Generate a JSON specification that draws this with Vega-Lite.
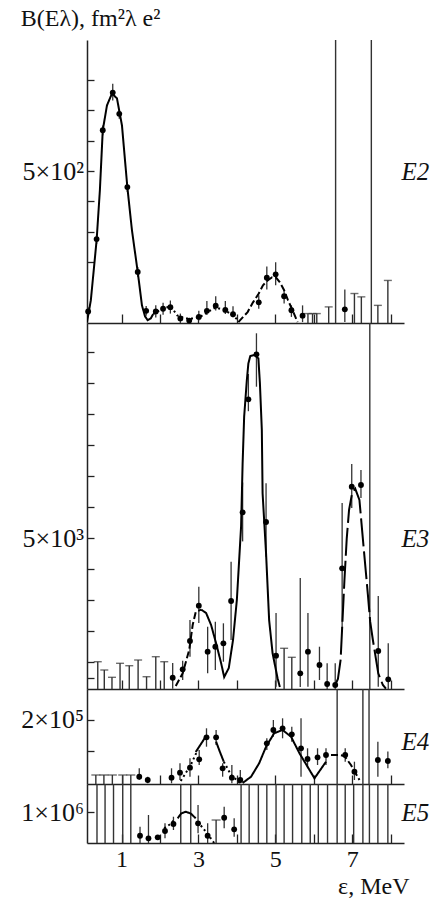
{
"$schema":"https://vega.github.io/schema/vega-lite/v6.json",
"padding":{"left":20,"top":7,"right":5,"bottom":3},
"title":{"text":"B(Eλ), fm²λ e²","anchor":"start","frame":"bounds","font":"Liberation Serif","fontSize":24,"fontWeight":"normal","color":"#111","offset":8},
"config":{"view":{"stroke":null},"axis":{"domainColor":"#222","domainWidth":1.5,"tickColor":"#222","tickWidth":1.3,"labelFont":"Liberation Serif","labelFontSize":24,"labelColor":"#111","titleFont":"Liberation Serif","titleFontSize":24,"titleFontWeight":"normal","titleColor":"#111","grid":false,"labelOverlap":false,"labelBound":false}},
"spacing":0,
"bounds":"flush",
"datasets":{
"p":[
{"panel":"E2","x":0.13,"y":38,"lo":25,"hi":52},{"panel":"E2","x":0.35,"y":276,"lo":260,"hi":292},{"panel":"E2","x":0.51,"y":634,"lo":618,"hi":650},{"panel":"E2","x":0.77,"y":758,"lo":732,"hi":787},{"panel":"E2","x":0.94,"y":688,"lo":672,"hi":704},{"panel":"E2","x":1.15,"y":447,"lo":431,"hi":463},{"panel":"E2","x":1.42,"y":168,"lo":152,"hi":184},{"panel":"E2","x":1.64,"y":40,"lo":24,"hi":56},{"panel":"E2","x":1.89,"y":38,"lo":18,"hi":58},{"panel":"E2","x":2.08,"y":47,"lo":27,"hi":67},{"panel":"E2","x":2.27,"y":52,"lo":31,"hi":74},{"panel":"E2","x":2.53,"y":15,"lo":0,"hi":31},{"panel":"E2","x":2.76,"y":8,"lo":8,"hi":8},{"panel":"E2","x":3.01,"y":20,"lo":8,"hi":40},{"panel":"E2","x":3.22,"y":40,"lo":26,"hi":72},{"panel":"E2","x":3.45,"y":57,"lo":41,"hi":88},{"panel":"E2","x":3.70,"y":43,"lo":30,"hi":72},{"panel":"E2","x":3.90,"y":29,"lo":18,"hi":55},{"panel":"E2","x":4.57,"y":68,"lo":47,"hi":91},{"panel":"E2","x":4.78,"y":149,"lo":110,"hi":186},{"panel":"E2","x":5.01,"y":160,"lo":124,"hi":200},{"panel":"E2","x":5.23,"y":88,"lo":64,"hi":108},{"panel":"E2","x":5.42,"y":42,"lo":20,"hi":58},{"panel":"E2","x":5.71,"y":24,"lo":3,"hi":58},{"panel":"E2","x":6.81,"y":45,"lo":3,"hi":110},
{"panel":"E3","x":2.33,"y":503,"lo":150,"hi":977},{"panel":"E3","x":2.59,"y":774,"lo":429,"hi":1052},{"panel":"E3","x":2.78,"y":1687,"lo":1181,"hi":2366},{"panel":"E3","x":3.01,"y":2826,"lo":2268,"hi":3439},{"panel":"E3","x":3.24,"y":1342,"lo":645,"hi":2148},{"panel":"E3","x":3.44,"y":1503,"lo":752,"hi":2310},{"panel":"E3","x":3.65,"y":1613,"lo":1019,"hi":2258},{"panel":"E3","x":3.85,"y":2977,"lo":1719,"hi":4245},{"panel":"E3","x":4.15,"y":5839,"lo":4900,"hi":6800},{"panel":"E3","x":4.30,"y":9484,"lo":9100,"hi":10300},{"panel":"E3","x":4.51,"y":10935,"lo":9890,"hi":11613},{"panel":"E3","x":4.76,"y":5526,"lo":4406,"hi":6774},{"panel":"E3","x":5.02,"y":1213,"lo":213,"hi":2590},{"panel":"E3","x":5.65,"y":645,"lo":203,"hi":3719},{"panel":"E3","x":5.85,"y":1342,"lo":213,"hi":2590},{"panel":"E3","x":6.15,"y":913,"lo":429,"hi":1503},{"panel":"E3","x":6.35,"y":300,"lo":139,"hi":968},{"panel":"E3","x":6.56,"y":268,"lo":139,"hi":968},{"panel":"E3","x":6.74,"y":4032,"lo":1987,"hi":6139},{"panel":"E3","x":6.99,"y":6665,"lo":5977,"hi":7397},{"panel":"E3","x":7.23,"y":6719,"lo":6300,"hi":7203},{"panel":"E3","x":7.68,"y":1365,"lo":213,"hi":3139},{"panel":"E3","x":7.94,"y":452,"lo":139,"hi":1613},
{"panel":"E4","x":1.46,"y":107653,"lo":102278,"hi":121333},{"panel":"E4","x":1.68,"y":102278,"lo":96900,"hi":107653},{"panel":"E4","x":2.30,"y":106025,"lo":96900,"hi":121333},{"panel":"E4","x":2.52,"y":114166,"lo":102278,"hi":129478},{"panel":"E4","x":2.78,"y":122311,"lo":107653,"hi":137622},{"panel":"E4","x":3.02,"y":135994,"lo":126709,"hi":151139},{"panel":"E4","x":3.21,"y":171824,"lo":156513,"hi":186482},{"panel":"E4","x":3.46,"y":171824,"lo":159283,"hi":183713},{"panel":"E4","x":3.63,"y":121333,"lo":107653,"hi":129478},{"panel":"E4","x":3.87,"y":106025,"lo":96900,"hi":126709},{"panel":"E4","x":4.09,"y":102278,"lo":96900,"hi":118565},{"panel":"E4","x":4.78,"y":162051,"lo":151139,"hi":170195},{"panel":"E4","x":4.95,"y":183713,"lo":172801,"hi":200000},{"panel":"E4","x":5.19,"y":186482,"lo":170195,"hi":202769},{"panel":"E4","x":5.43,"y":176710,"lo":164658,"hi":189088},{"panel":"E4","x":5.67,"y":153908,"lo":107653,"hi":202769},{"panel":"E4","x":5.84,"y":136481,"lo":121333,"hi":153908},{"panel":"E4","x":6.10,"y":139250,"lo":126709,"hi":153908},{"panel":"E4","x":6.32,"y":142996,"lo":126709,"hi":153908},{"panel":"E4","x":6.82,"y":142996,"lo":132084,"hi":153908},{"panel":"E4","x":7.06,"y":115796,"lo":102278,"hi":132084},{"panel":"E4","x":7.67,"y":134852,"lo":107653,"hi":164658},{"panel":"E4","x":7.93,"y":133223,"lo":121333,"hi":148696},
{"panel":"E5","x":1.48,"y":839320,"lo":787800,"hi":900340},{"panel":"E5","x":1.70,"y":821690,"lo":789830,"hi":979660},{"panel":"E5","x":1.94,"y":828470,"lo":815000,"hi":842000},{"panel":"E5","x":2.13,"y":871190,"lo":821690,"hi":923390},{"panel":"E5","x":2.35,"y":918640,"lo":877970,"hi":968140},{"panel":"E5","x":2.99,"y":923390,"lo":855590,"hi":1047460},{"panel":"E5","x":3.24,"y":839320,"lo":787800,"hi":923390},{"panel":"E5","x":3.67,"y":961360,"lo":889490,"hi":1035930},{"panel":"E5","x":3.93,"y":882710,"lo":832540,"hi":957290}
],
"l":[
{"panel":"E2","x":5.85,"lo":0,"hi":31},{"panel":"E2","x":5.97,"lo":0,"hi":31},{"panel":"E2","x":6.08,"lo":0,"hi":31},{"panel":"E2","x":6.39,"lo":0,"hi":53},{"panel":"E2","x":7.06,"lo":0,"hi":97},{"panel":"E2","x":7.24,"lo":0,"hi":86},{"panel":"E2","x":7.67,"lo":0,"hi":58},{"panel":"E2","x":7.93,"lo":0,"hi":140},
{"panel":"E3","x":0.38,"lo":0,"hi":1019},{"panel":"E3","x":0.55,"lo":0,"hi":752},{"panel":"E3","x":0.75,"lo":0,"hi":516},{"panel":"E3","x":0.96,"lo":0,"hi":968},{"panel":"E3","x":1.20,"lo":0,"hi":890},{"panel":"E3","x":1.43,"lo":0,"hi":1074},{"panel":"E3","x":1.65,"lo":0,"hi":535},{"panel":"E3","x":1.89,"lo":0,"hi":1181},{"panel":"E3","x":2.11,"lo":0,"hi":1019},{"panel":"E3","x":5.23,"lo":0,"hi":1452},{"panel":"E3","x":5.43,"lo":0,"hi":1161},
{"panel":"E4","x":0.33,"lo":0,"hi":110422},{"panel":"E4","x":0.54,"lo":0,"hi":110422},{"panel":"E4","x":0.76,"lo":0,"hi":110422},{"panel":"E4","x":1.03,"lo":0,"hi":110422},{"panel":"E4","x":1.24,"lo":0,"hi":110422},
{"panel":"E5","x":3.46,"lo":0,"hi":945760}
],
"f":[
{"panel":"E2","x":6.57},{"panel":"E2","x":7.50},
{"panel":"E3","x":7.46},
{"panel":"E4","x":6.61},{"panel":"E4","x":7.28},{"panel":"E4","x":7.44},
{"panel":"E5","x":0.36},{"panel":"E5","x":0.57},{"panel":"E5","x":0.79},{"panel":"E5","x":1.03},{"panel":"E5","x":1.24},{"panel":"E5","x":2.54},{"panel":"E5","x":2.80},{"panel":"E5","x":4.11},{"panel":"E5","x":4.32},{"panel":"E5","x":4.56},{"panel":"E5","x":4.78},{"panel":"E5","x":5.02},{"panel":"E5","x":5.23},{"panel":"E5","x":5.45},{"panel":"E5","x":5.69},{"panel":"E5","x":5.91},{"panel":"E5","x":6.12},{"panel":"E5","x":6.36},{"panel":"E5","x":6.61},{"panel":"E5","x":6.82},{"panel":"E5","x":7.04},{"panel":"E5","x":7.28},{"panel":"E5","x":7.45},{"panel":"E5","x":7.67},{"panel":"E5","x":7.93}
],
"c":[
{"panel":"E2","seg":"a","style":"solid","x":0.10,"y":3},{"panel":"E2","seg":"a","style":"solid","x":0.20,"y":75},{"panel":"E2","seg":"a","style":"solid","x":0.35,"y":272},{"panel":"E2","seg":"a","style":"solid","x":0.435,"y":436},{"panel":"E2","seg":"a","style":"solid","x":0.51,"y":634},{"panel":"E2","seg":"a","style":"solid","x":0.62,"y":716},{"panel":"E2","seg":"a","style":"solid","x":0.75,"y":755},{"panel":"E2","seg":"a","style":"solid","x":0.88,"y":739},{"panel":"E2","seg":"a","style":"solid","x":1.01,"y":650},{"panel":"E2","seg":"a","style":"solid","x":1.15,"y":447},{"panel":"E2","seg":"a","style":"solid","x":1.27,"y":305},{"panel":"E2","seg":"a","style":"solid","x":1.42,"y":168},{"panel":"E2","seg":"a","style":"solid","x":1.53,"y":58},{"panel":"E2","seg":"a","style":"solid","x":1.61,"y":22},{"panel":"E2","seg":"a","style":"solid","x":1.68,"y":9},{"panel":"E2","seg":"a","style":"solid","x":1.76,"y":15},{"panel":"E2","seg":"a","style":"solid","x":1.82,"y":29},
{"panel":"E2","seg":"b","style":"dot","x":1.82,"y":29},{"panel":"E2","seg":"b","style":"dot","x":1.90,"y":35},{"panel":"E2","seg":"b","style":"dot","x":2.08,"y":48},{"panel":"E2","seg":"b","style":"dot","x":2.28,"y":55},{"panel":"E2","seg":"b","style":"dot","x":2.45,"y":25},{"panel":"E2","seg":"b","style":"dot","x":2.65,"y":15},{"panel":"E2","seg":"b","style":"dot","x":2.86,"y":15},{"panel":"E2","seg":"b","style":"dot","x":3.07,"y":22},{"panel":"E2","seg":"b","style":"dot","x":3.27,"y":38},{"panel":"E2","seg":"b","style":"dot","x":3.45,"y":51},{"panel":"E2","seg":"b","style":"dot","x":3.69,"y":42},{"panel":"E2","seg":"b","style":"dot","x":3.90,"y":25},{"panel":"E2","seg":"b","style":"dot","x":4.03,"y":9},
{"panel":"E2","seg":"c","style":"dash","x":4.04,"y":3},{"panel":"E2","seg":"c","style":"dash","x":4.28,"y":36},{"panel":"E2","seg":"c","style":"dash","x":4.42,"y":68},{"panel":"E2","seg":"c","style":"dash","x":4.57,"y":97},{"panel":"E2","seg":"c","style":"dash","x":4.68,"y":124},{"panel":"E2","seg":"c","style":"dash","x":4.80,"y":140},{"panel":"E2","seg":"c","style":"dash","x":4.91,"y":150},{"panel":"E2","seg":"c","style":"dash","x":5.01,"y":151},{"panel":"E2","seg":"c","style":"dash","x":5.12,"y":134},{"panel":"E2","seg":"c","style":"dash","x":5.23,"y":108},{"panel":"E2","seg":"c","style":"dash","x":5.33,"y":75},{"panel":"E2","seg":"c","style":"dash","x":5.45,"y":42},{"panel":"E2","seg":"c","style":"dash","x":5.58,"y":3},
{"panel":"E3","seg":"a","style":"dash","x":2.41,"y":236},{"panel":"E3","seg":"a","style":"dash","x":2.59,"y":645},{"panel":"E3","seg":"a","style":"dash","x":2.76,"y":1397},{"panel":"E3","seg":"a","style":"dash","x":2.85,"y":2203},{"panel":"E3","seg":"a","style":"dash","x":2.93,"y":2623},{"panel":"E3","seg":"a","style":"dash","x":3.07,"y":2700},
{"panel":"E3","seg":"b","style":"solid","x":3.07,"y":2700},{"panel":"E3","seg":"b","style":"solid","x":3.20,"y":2590},{"panel":"E3","seg":"b","style":"solid","x":3.33,"y":2203},{"panel":"E3","seg":"b","style":"solid","x":3.46,"y":1613},{"panel":"E3","seg":"b","style":"solid","x":3.59,"y":977},{"panel":"E3","seg":"b","style":"solid","x":3.67,"y":526},{"panel":"E3","seg":"b","style":"solid","x":3.79,"y":816},{"panel":"E3","seg":"b","style":"solid","x":3.90,"y":1719},{"panel":"E3","seg":"b","style":"solid","x":4.00,"y":3010},{"panel":"E3","seg":"b","style":"solid","x":4.06,"y":4300},{"panel":"E3","seg":"b","style":"solid","x":4.11,"y":5374},{"panel":"E3","seg":"b","style":"solid","x":4.15,"y":7419},{"panel":"E3","seg":"b","style":"solid","x":4.19,"y":8923},{"panel":"E3","seg":"b","style":"solid","x":4.26,"y":10106},{"panel":"E3","seg":"b","style":"solid","x":4.30,"y":10645},{"panel":"E3","seg":"b","style":"solid","x":4.35,"y":10881},{"panel":"E3","seg":"b","style":"solid","x":4.45,"y":10913},{"panel":"E3","seg":"b","style":"solid","x":4.56,"y":10806},{"panel":"E3","seg":"b","style":"solid","x":4.60,"y":10000},{"panel":"E3","seg":"b","style":"solid","x":4.65,"y":8494},{"panel":"E3","seg":"b","style":"solid","x":4.67,"y":6452},{"panel":"E3","seg":"b","style":"solid","x":4.76,"y":4516},{"panel":"E3","seg":"b","style":"solid","x":4.84,"y":2365},{"panel":"E3","seg":"b","style":"solid","x":4.93,"y":1290},{"panel":"E3","seg":"b","style":"solid","x":5.06,"y":484},{"panel":"E3","seg":"b","style":"solid","x":5.12,"y":200},
{"panel":"E3","seg":"c","style":"long","x":6.54,"y":213},{"panel":"E3","seg":"c","style":"long","x":6.63,"y":461},{"panel":"E3","seg":"c","style":"long","x":6.70,"y":1074},{"panel":"E3","seg":"c","style":"long","x":6.75,"y":2364},{"panel":"E3","seg":"c","style":"long","x":6.80,"y":3655},{"panel":"E3","seg":"c","style":"long","x":6.86,"y":5000},{"panel":"E3","seg":"c","style":"long","x":6.92,"y":5913},{"panel":"E3","seg":"c","style":"long","x":7.00,"y":6461},{"panel":"E3","seg":"c","style":"long","x":7.08,"y":6600},{"panel":"E3","seg":"c","style":"long","x":7.19,"y":6235},{"panel":"E3","seg":"c","style":"long","x":7.30,"y":4700},{"panel":"E3","seg":"c","style":"long","x":7.41,"y":3181},{"panel":"E3","seg":"c","style":"long","x":7.47,"y":2310},{"panel":"E3","seg":"c","style":"long","x":7.54,"y":1719},{"panel":"E3","seg":"c","style":"long","x":7.68,"y":645},{"panel":"E3","seg":"c","style":"long","x":7.80,"y":268},{"panel":"E3","seg":"c","style":"long","x":7.88,"y":150},
{"panel":"E4","seg":"a","style":"dot","x":2.54,"y":100650},{"panel":"E4","seg":"a","style":"dot","x":2.80,"y":126709},{"panel":"E4","seg":"a","style":"dot","x":2.98,"y":151139},
{"panel":"E4","seg":"b","style":"solid","x":2.93,"y":147882},{"panel":"E4","seg":"b","style":"solid","x":3.20,"y":173941},
{"panel":"E4","seg":"c","style":"solid","x":3.46,"y":164658},{"panel":"E4","seg":"c","style":"solid","x":3.56,"y":147882},{"panel":"E4","seg":"c","style":"solid","x":3.66,"y":132084},
{"panel":"E4","seg":"d","style":"dot","x":3.66,"y":132084},{"panel":"E4","seg":"d","style":"dot","x":3.85,"y":110422},{"panel":"E4","seg":"d","style":"dot","x":4.08,"y":97392},
{"panel":"E4","seg":"e","style":"solid","x":4.15,"y":97392},{"panel":"E4","seg":"e","style":"solid","x":4.37,"y":107653},{"panel":"E4","seg":"e","style":"solid","x":4.58,"y":129478},{"panel":"E4","seg":"e","style":"solid","x":4.76,"y":156513},{"panel":"E4","seg":"e","style":"solid","x":4.97,"y":178339},{"panel":"E4","seg":"e","style":"solid","x":5.19,"y":183713},{"panel":"E4","seg":"e","style":"solid","x":5.41,"y":172801},{"panel":"E4","seg":"e","style":"solid","x":5.63,"y":145764},{"panel":"E4","seg":"e","style":"solid","x":5.84,"y":123940},{"panel":"E4","seg":"e","style":"solid","x":6.02,"y":105047},{"panel":"E4","seg":"e","style":"solid","x":6.32,"y":132084},
{"panel":"E4","seg":"f","style":"dash","x":6.45,"y":143000},{"panel":"E4","seg":"f","style":"dash","x":6.67,"y":143000},{"panel":"E4","seg":"f","style":"dash","x":6.80,"y":141367},{"panel":"E4","seg":"f","style":"dash","x":6.97,"y":126709},{"panel":"E4","seg":"f","style":"dash","x":7.19,"y":102278},
{"panel":"E5","seg":"a","style":"dot","x":2.11,"y":889490},{"panel":"E5","seg":"a","style":"dot","x":2.25,"y":915000},{"panel":"E5","seg":"a","style":"dot","x":2.37,"y":945760},
{"panel":"E5","seg":"b","style":"solid","x":2.46,"y":957290},{"panel":"E5","seg":"b","style":"solid","x":2.55,"y":990000},{"panel":"E5","seg":"b","style":"solid","x":2.67,"y":1002034},{"panel":"E5","seg":"b","style":"solid","x":2.80,"y":990000},{"panel":"E5","seg":"b","style":"solid","x":2.93,"y":957290},
{"panel":"E5","seg":"c","style":"dot","x":2.98,"y":935000},{"panel":"E5","seg":"c","style":"dot","x":3.22,"y":857630},{"panel":"E5","seg":"c","style":"dot","x":3.41,"y":789830}
]
},
"vconcat":[
{"width":317,"height":283,
 "encoding":{"x":{"field":"x","type":"quantitative","scale":{"domain":[0.1,8.35],"nice":false,"zero":false},"axis":{"values":[1,2,3,4,5,6,7,8],"labels":false,"tickSize":-9,"title":null}}},
 "layer":[
  {"data":{"name":"f"},"transform":[{"filter":"datum.panel=='E2'"}],"mark":{"type":"rule","strokeWidth":1.4,"color":"#333"},"encoding":{}},
  {"data":{"name":"l"},"transform":[{"filter":"datum.panel=='E2'"}],"mark":{"type":"rule","strokeWidth":1.4,"color":"#333","clip":true},"encoding":{"y":{"field":"hi","type":"quantitative","scale":{"domain":[0,931],"nice":false,"zero":false},"axis":{"orient":"left","values":[200,300,400,500,600,700,800],"labelExpr":"datum.value==500?'5×10²':''","labelFontSize":26,"tickSize":-7,"labelPadding":10.5,"title":null}},"y2":{"field":"lo"}}},
  {"data":{"name":"l"},"transform":[{"filter":"datum.panel=='E2'"}],"mark":{"type":"tick","orient":"horizontal","size":8,"thickness":1.4,"color":"#333"},"encoding":{"y":{"field":"hi","type":"quantitative","scale":{"domain":[0,931],"nice":false,"zero":false},"axis":null}}},
  {"data":{"name":"p"},"transform":[{"filter":"datum.panel=='E2'"}],"mark":{"type":"rule","strokeWidth":1.3,"color":"#333","clip":true},"encoding":{"y":{"field":"lo","type":"quantitative","scale":{"domain":[0,931],"nice":false,"zero":false},"axis":null},"y2":{"field":"hi"}}},
  {"data":{"name":"p"},"transform":[{"filter":"datum.panel=='E2'"}],"mark":{"type":"point","filled":true,"size":34,"color":"#000","opacity":1},"encoding":{"y":{"field":"y","type":"quantitative","scale":{"domain":[0,931],"nice":false,"zero":false},"axis":null}}},
  {"data":{"name":"c"},"transform":[{"filter":"datum.panel=='E2'"}],"mark":{"type":"line","strokeWidth":2,"color":"#000","clip":true},"encoding":{"y":{"field":"y","type":"quantitative","scale":{"domain":[0,931],"nice":false,"zero":false},"axis":{"orient":"right","values":[500],"labelExpr":"'E2'","labelFontSize":25,"ticks":false,"domain":false,"labelPadding":-3,"labelFontStyle":"italic","title":null}},"detail":{"field":"seg"},"strokeDash":{"field":"style","type":"nominal","scale":{"domain":["solid","dash","dot","long"],"range":[[1,0],[7,3],[2,3],[28,5]]},"legend":null}}}
 ],
 "resolve":{"axis":{"y":"independent"}}
},
{"width":317,"height":366,
 "encoding":{"x":{"field":"x","type":"quantitative","scale":{"domain":[0.1,8.35],"nice":false,"zero":false},"axis":{"values":[1,2,3,4,5,6,7,8],"labels":false,"tickSize":-9,"title":null}}},
 "layer":[
  {"data":{"name":"f"},"transform":[{"filter":"datum.panel=='E3'"}],"mark":{"type":"rule","strokeWidth":1.4,"color":"#333"},"encoding":{}},
  {"data":{"name":"l"},"transform":[{"filter":"datum.panel=='E3'"}],"mark":{"type":"rule","strokeWidth":1.4,"color":"#333","clip":true},"encoding":{"y":{"field":"hi","type":"quantitative","scale":{"domain":[139,11945],"nice":false,"zero":false},"axis":{"orient":"left","values":[500,1000,2000,3000,4000,5000,6000,7000,8000,9000,10000,11000],"labelExpr":"datum.value==5000?'5×10³':''","labelFontSize":26,"tickSize":-7,"labelPadding":10.5,"title":null}},"y2":{"field":"lo"}}},
  {"data":{"name":"l"},"transform":[{"filter":"datum.panel=='E3'"}],"mark":{"type":"tick","orient":"horizontal","size":8,"thickness":1.4,"color":"#333"},"encoding":{"y":{"field":"hi","type":"quantitative","scale":{"domain":[139,11945],"nice":false,"zero":false},"axis":null}}},
  {"data":{"name":"p"},"transform":[{"filter":"datum.panel=='E3'"}],"mark":{"type":"rule","strokeWidth":1.3,"color":"#333","clip":true},"encoding":{"y":{"field":"lo","type":"quantitative","scale":{"domain":[139,11945],"nice":false,"zero":false},"axis":null},"y2":{"field":"hi"}}},
  {"data":{"name":"p"},"transform":[{"filter":"datum.panel=='E3'"}],"mark":{"type":"point","filled":true,"size":34,"color":"#000","opacity":1},"encoding":{"y":{"field":"y","type":"quantitative","scale":{"domain":[139,11945],"nice":false,"zero":false},"axis":null}}},
  {"data":{"name":"c"},"transform":[{"filter":"datum.panel=='E3'"}],"mark":{"type":"line","strokeWidth":2,"color":"#000","clip":true},"encoding":{"y":{"field":"y","type":"quantitative","scale":{"domain":[139,11945],"nice":false,"zero":false},"axis":{"orient":"right","values":[5000],"labelExpr":"'E3'","labelFontSize":25,"ticks":false,"domain":false,"labelPadding":-3,"labelFontStyle":"italic","title":null}},"detail":{"field":"seg"},"strokeDash":{"field":"style","type":"nominal","scale":{"domain":["solid","dash","dot","long"],"range":[[1,0],[7,3],[2,3],[28,5]]},"legend":null}}}
 ],
 "resolve":{"axis":{"y":"independent"}}
},
{"width":317,"height":95,
 "encoding":{"x":{"field":"x","type":"quantitative","scale":{"domain":[0.1,8.35],"nice":false,"zero":false},"axis":{"values":[1,2,3,4,5,6,7,8],"labels":false,"tickSize":-9,"title":null}}},
 "layer":[
  {"data":{"name":"f"},"transform":[{"filter":"datum.panel=='E4'"}],"mark":{"type":"rule","strokeWidth":1.4,"color":"#333"},"encoding":{}},
  {"data":{"name":"l"},"transform":[{"filter":"datum.panel=='E4'"}],"mark":{"type":"rule","strokeWidth":1.4,"color":"#333","clip":true},"encoding":{"y":{"field":"hi","type":"quantitative","scale":{"domain":[95760,250490],"nice":false,"zero":false},"axis":{"orient":"left","values":[150000,200000],"labelExpr":"datum.value==200000?'2×10⁵':''","labelFontSize":26,"tickSize":-7,"labelPadding":10.5,"title":null}},"y2":{"field":"lo"}}},
  {"data":{"name":"l"},"transform":[{"filter":"datum.panel=='E4'"}],"mark":{"type":"tick","orient":"horizontal","size":9,"thickness":1.4,"color":"#333"},"encoding":{"y":{"field":"hi","type":"quantitative","scale":{"domain":[95760,250490],"nice":false,"zero":false},"axis":null}}},
  {"data":{"name":"p"},"transform":[{"filter":"datum.panel=='E4'"}],"mark":{"type":"rule","strokeWidth":1.3,"color":"#333","clip":true},"encoding":{"y":{"field":"lo","type":"quantitative","scale":{"domain":[95760,250490],"nice":false,"zero":false},"axis":null},"y2":{"field":"hi"}}},
  {"data":{"name":"p"},"transform":[{"filter":"datum.panel=='E4'"}],"mark":{"type":"point","filled":true,"size":34,"color":"#000","opacity":1},"encoding":{"y":{"field":"y","type":"quantitative","scale":{"domain":[95760,250490],"nice":false,"zero":false},"axis":null}}},
  {"data":{"name":"c"},"transform":[{"filter":"datum.panel=='E4'"}],"mark":{"type":"line","strokeWidth":2,"color":"#000","clip":true},"encoding":{"y":{"field":"y","type":"quantitative","scale":{"domain":[95760,250490],"nice":false,"zero":false},"axis":{"orient":"right","values":[164657],"labelExpr":"'E4'","labelFontSize":25,"ticks":false,"domain":false,"labelPadding":-3,"labelFontStyle":"italic","title":null}},"detail":{"field":"seg"},"strokeDash":{"field":"style","type":"nominal","scale":{"domain":["solid","dash","dot","long"],"range":[[1,0],[7,3],[2,3],[28,5]]},"legend":null}}}
 ],
 "resolve":{"axis":{"y":"independent"}}
},
{"width":317,"height":59,
 "encoding":{"x":{"field":"x","type":"quantitative","scale":{"domain":[0.1,8.35],"nice":false,"zero":false},"axis":{"values":[1,2,3,4,5,6,7,8],"labelExpr":"datum.value%2==1?datum.label:''","labelFontSize":24,"tickSize":-9,"labelPadding":13,"title":"ε, MeV","titleFontSize":24,"titleAnchor":"end","titleAlign":"right","titleBaseline":"alphabetic","titleX":322,"titleY":50}}},
 "layer":[
  {"data":{"name":"f"},"transform":[{"filter":"datum.panel=='E5'"}],"mark":{"type":"rule","strokeWidth":1.4,"color":"#333"},"encoding":{}},
  {"data":{"name":"l"},"transform":[{"filter":"datum.panel=='E5'"}],"mark":{"type":"rule","strokeWidth":1.4,"color":"#333","clip":true},"encoding":{"y":{"field":"hi","type":"quantitative","scale":{"domain":[790000,1190000],"nice":false,"zero":false},"axis":{"orient":"left","values":[1000000],"labelExpr":"'1×10⁶'","labelFontSize":26,"tickSize":-7,"labelPadding":10.5,"title":null}},"y2":{"field":"lo"}}},
  {"data":{"name":"l"},"transform":[{"filter":"datum.panel=='E5'"}],"mark":{"type":"tick","orient":"horizontal","size":9,"thickness":1.4,"color":"#333"},"encoding":{"y":{"field":"hi","type":"quantitative","scale":{"domain":[790000,1190000],"nice":false,"zero":false},"axis":null}}},
  {"data":{"name":"p"},"transform":[{"filter":"datum.panel=='E5'"}],"mark":{"type":"rule","strokeWidth":1.3,"color":"#333","clip":true},"encoding":{"y":{"field":"lo","type":"quantitative","scale":{"domain":[790000,1190000],"nice":false,"zero":false},"axis":null},"y2":{"field":"hi"}}},
  {"data":{"name":"p"},"transform":[{"filter":"datum.panel=='E5'"}],"mark":{"type":"point","filled":true,"size":34,"color":"#000","opacity":1},"encoding":{"y":{"field":"y","type":"quantitative","scale":{"domain":[790000,1190000],"nice":false,"zero":false},"axis":null}}},
  {"data":{"name":"c"},"transform":[{"filter":"datum.panel=='E5'"}],"mark":{"type":"line","strokeWidth":2,"color":"#000","clip":true},"encoding":{"y":{"field":"y","type":"quantitative","scale":{"domain":[790000,1190000],"nice":false,"zero":false},"axis":{"orient":"right","values":[1000000],"labelExpr":"'E5'","labelFontSize":25,"ticks":false,"domain":false,"labelPadding":-3,"labelFontStyle":"italic","title":null}},"detail":{"field":"seg"},"strokeDash":{"field":"style","type":"nominal","scale":{"domain":["solid","dash","dot","long"],"range":[[1,0],[7,3],[2,3],[28,5]]},"legend":null}}}
 ],
 "resolve":{"axis":{"y":"independent"}}
}
]
}
